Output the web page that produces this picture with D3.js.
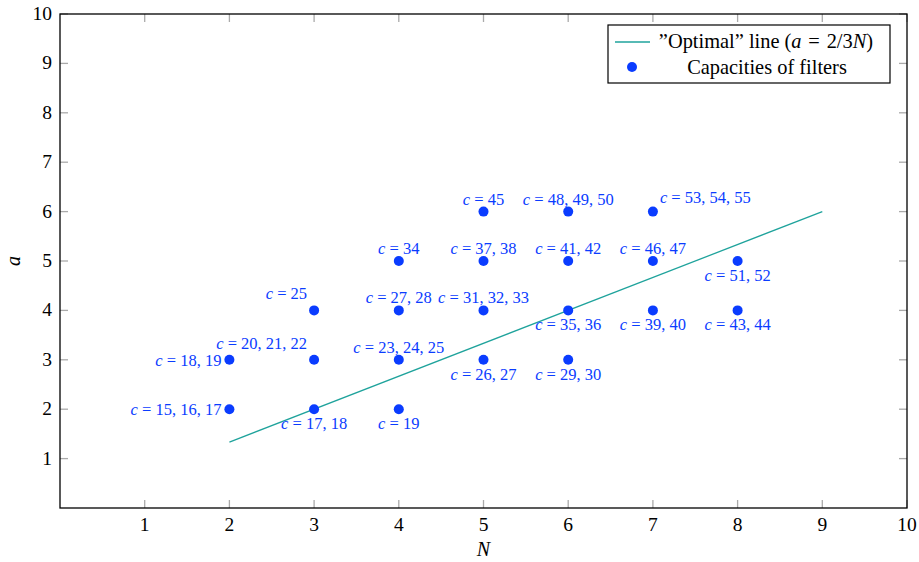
<!DOCTYPE html>
<html>
<head>
<meta charset="utf-8">
<script src="https://cdn.jsdelivr.net/npm/d3@7"></script>
<style>
  body { margin: 0; background: #fff; }
  text { font-family: "Liberation Serif", "DejaVu Serif", serif; }
</style>
</head>
<body>
<div id="chart"></div>
<script>
var wid = 919,
	heig = 562;

// data
var pointsN   = [2, 2, 3, 3, 3, 4, 4, 4, 4, 5, 5, 5, 5, 6, 6, 6, 6, 7, 7, 7, 8, 8];
var pointsA   = [2, 3, 2, 3, 4, 2, 3, 4, 5, 3, 4, 5, 6, 3, 4, 5, 6, 4, 5, 6, 4, 5];
var capLabels = ["15, 16, 17", "18, 19", "17, 18", "20, 21, 22", "25", "19", "23, 24, 25", "27, 28", "34",
                 "26, 27", "31, 32, 33", "37, 38", "45", "29, 30", "35, 36", "41, 42", "48, 49, 50",
                 "39, 40", "46, 47", "53, 54, 55", "43, 44", "51, 52"];
var labelPos  = ["w", "w", "s", "nw", "nw", "s", "n", "n", "n",
                 "s", "n", "n", "n", "s", "s", "n", "n",
                 "s", "n", "ne", "s", "s"];
var lineN = [2, 9];
var xTicks = [1, 2, 3, 4, 5, 6, 7, 8, 9, 10];
var yTicks = [1, 2, 3, 4, 5, 6, 7, 8, 9, 10];

var blue = "#0a3cff",
	teal = "#1fa39c";

var x = d3.scaleLinear().domain([0, 10]).range([60, 907]);
var y = d3.scaleLinear().domain([0, 10]).range([508, 14]);

var svg = d3.select("#chart").append("svg:svg")
		.attr("width", wid)
		.attr("height", heig);

//Ticks on all four sides, pointing inwards
var tickLen = 8;
svg.append("g").selectAll("line.xb").data(xTicks).enter().append("line")
	.attr("x1", function(d) { return x(d); }).attr("x2", function(d) { return x(d); })
	.attr("y1", y(0)).attr("y2", y(0) - tickLen)
	.attr("stroke", "#aaa").attr("stroke-width", 1.3);
svg.append("g").selectAll("line.xt").data(xTicks).enter().append("line")
	.attr("x1", function(d) { return x(d); }).attr("x2", function(d) { return x(d); })
	.attr("y1", y(10)).attr("y2", y(10) + tickLen)
	.attr("stroke", "#aaa").attr("stroke-width", 1.3);
svg.append("g").selectAll("line.yl").data(yTicks).enter().append("line")
	.attr("y1", function(d) { return y(d); }).attr("y2", function(d) { return y(d); })
	.attr("x1", x(0)).attr("x2", x(0) + tickLen)
	.attr("stroke", "#aaa").attr("stroke-width", 1.3);
svg.append("g").selectAll("line.yr").data(yTicks).enter().append("line")
	.attr("y1", function(d) { return y(d); }).attr("y2", function(d) { return y(d); })
	.attr("x1", x(10)).attr("x2", x(10) - tickLen)
	.attr("stroke", "#aaa").attr("stroke-width", 1.3);

//Tick labels
svg.append("g").selectAll("text").data(xTicks).enter().append("text")
	.attr("x", function(d) { return x(d); })
	.attr("y", y(0) + 23)
	.attr("text-anchor", "middle")
	.style("font-size", "19.5px")
	.text(function(d) { return d; });
svg.append("g").selectAll("text").data(yTicks).enter().append("text")
	.attr("x", x(0) - 8)
	.attr("y", function(d) { return y(d) + 6; })
	.attr("text-anchor", "end")
	.style("font-size", "19.5px")
	.text(function(d) { return d; });

//Axis labels
svg.append("text")
	.attr("transform", "translate(" + 20 + "," + y(5) + ") rotate(-90)")
	.attr("text-anchor", "middle")
	.style("font-size", "20px")
	.style("font-style", "italic")
	.text("a");
svg.append("text")
	.attr("x", x(5))
	.attr("y", 556)
	.attr("text-anchor", "middle")
	.style("font-size", "20px")
	.style("font-style", "italic")
	.text("N");

//Optimal line
svg.append("line")
	.attr("x1", x(lineN[0])).attr("y1", y(2 / 3 * lineN[0]))
	.attr("x2", x(lineN[1])).attr("y2", y(2 / 3 * lineN[1]))
	.attr("stroke", teal)
	.attr("stroke-width", 1.3);

//Points
var pts = d3.range(pointsN.length).map(function(i) {
	return { n: pointsN[i], a: pointsA[i], label: capLabels[i], pos: labelPos[i] };
});

svg.append("g").selectAll("circle").data(pts).enter().append("circle")
	.attr("cx", function(d) { return x(d.n); })
	.attr("cy", function(d) { return y(d.a); })
	.attr("r", 5)
	.attr("fill", blue);

//Point labels
var offs = {
	n:  { dx: 0,  dy: -7,  anchor: "middle" },
	s:  { dx: 0,  dy: 20,  anchor: "middle" },
	w:  { dx: -8, dy: 6,   anchor: "end" },
	nw: { dx: -7, dy: -11, anchor: "end" },
	ne: { dx: 7,  dy: -9,  anchor: "start" }
};

var lab = svg.append("g").selectAll("text").data(pts).enter().append("text")
	.attr("x", function(d) { return x(d.n) + offs[d.pos].dx; })
	.attr("y", function(d) { return y(d.a) + offs[d.pos].dy; })
	.attr("text-anchor", function(d) { return offs[d.pos].anchor; })
	.style("font-size", "16.5px")
	.attr("fill", blue);
lab.append("tspan").style("font-style", "italic").text("c");
lab.append("tspan").text(function(d) { return " = " + d.label; });

//Frame
svg.append("rect")
	.attr("x", x(0)).attr("y", y(10))
	.attr("width", x(10) - x(0)).attr("height", y(0) - y(10))
	.attr("fill", "none")
	.attr("stroke", "#000")
	.attr("stroke-width", 1.3);

//Legend
var legend = svg.append("g").attr("class", "legend");
legend.append("rect")
	.attr("x", 608).attr("y", 25)
	.attr("width", 282).attr("height", 58)
	.attr("fill", "#fff")
	.attr("stroke", "#000")
	.attr("stroke-width", 1.2);
legend.append("line")
	.attr("x1", 615).attr("x2", 650)
	.attr("y1", 42).attr("y2", 42)
	.attr("stroke", teal).attr("stroke-width", 1.3);
legend.append("circle")
	.attr("cx", 632).attr("cy", 67)
	.attr("r", 5).attr("fill", blue);

var l1 = legend.append("text")
	.attr("x", 766).attr("y", 48)
	.attr("text-anchor", "middle")
	.style("font-size", "20.4px");
l1.append("tspan").text("\u201DOptimal\u201D line (");
l1.append("tspan").style("font-style", "italic").text("a");
l1.append("tspan").text("\u2004=\u20042/3");
l1.append("tspan").style("font-style", "italic").text("N");
l1.append("tspan").text(")");

legend.append("text")
	.attr("x", 767).attr("y", 74)
	.attr("text-anchor", "middle")
	.style("font-size", "20.4px")
	.text("Capacities of filters");
</script>
</body>
</html>
